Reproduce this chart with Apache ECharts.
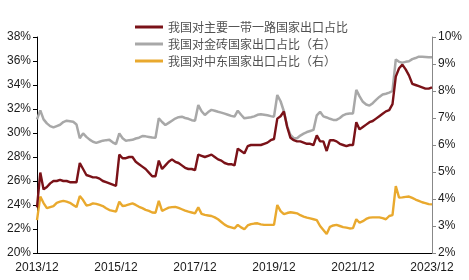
<!DOCTYPE html>
<html><head><meta charset="utf-8">
<script src="https://cdn.jsdelivr.net/npm/echarts@6/dist/echarts.min.js"></script>
<style>html,body{margin:0;padding:0;background:#fff}#c{width:469px;height:280px}</style>
</head><body><div id="c"></div>
<script>
// monthly categories 2013/12 .. 2023/12
const categories = [];
for (let y = 2013, m = 12; y < 2023 || (y === 2023 && m <= 12); ) {
  categories.push(y + '/' + (m < 10 ? '0' + m : m));
  m++; if (m > 12) { m = 1; y++; }
}
const seriesNames = ['我国对主要一带一路国家出口占比', '我国对金砖国家出口占比（右）', '我国对中东国家出口占比（右）'];
const leftTicks = ['20%','22%','24%','26%','28%','30%','32%','34%','36%','38%'];
const rightTicks = ['2%','3%','4%','5%','6%','7%','8%','9%','10%'];
const beltRoad = [
23.8,26.7,25.3,25.5,25.8,26.0,26.0,26.1,26.0,26.0,25.9,25.9,25.9,
27.5,27.0,26.5,26.4,26.3,26.3,26.2,26.0,25.9,25.8,25.7,25.6,
28.2,27.9,27.9,28.0,28.0,27.6,27.4,27.2,27.0,26.7,26.4,26.4,
27.7,27.0,27.3,27.6,27.8,27.6,27.5,27.3,27.1,27.0,27.0,26.9,
28.2,28.1,28.0,28.1,28.2,28.0,27.8,27.7,27.5,27.4,27.4,27.3,
28.7,28.5,28.3,28.9,29.0,29.0,29.0,29.0,29.1,29.2,29.4,29.5,
31.2,31.4,31.8,30.5,29.6,29.4,29.3,29.3,29.2,29.1,29.1,29.0,
29.8,29.3,29.3,28.5,29.4,29.4,29.3,29.1,29.0,28.9,29.0,29.0,
30.9,30.3,30.5,30.7,30.9,31.0,31.2,31.4,31.6,31.8,31.9,32.4,
34.7,35.4,35.7,35.3,34.8,34.1,34.0,33.9,33.8,33.7,33.7,33.8];
const brics = [
6.95,7.28,6.95,6.80,6.70,6.65,6.70,6.75,6.85,6.90,6.88,6.86,6.76,
6.25,6.43,6.30,6.20,6.12,6.08,6.12,6.16,6.18,6.19,6.10,6.03,
6.43,6.25,6.16,6.18,6.19,6.24,6.27,6.33,6.32,6.30,6.28,6.27,
6.99,6.85,6.74,6.82,6.90,6.98,7.03,7.05,7.00,6.97,6.92,6.90,
7.48,7.25,7.11,7.22,7.30,7.27,7.23,7.20,7.16,7.12,7.08,7.05,
7.27,7.12,6.99,7.01,7.03,7.06,7.12,7.14,7.12,7.10,7.07,7.05,
7.85,7.62,7.25,6.70,6.37,6.25,6.25,6.35,6.42,6.48,6.52,6.56,
7.10,7.23,7.06,7.02,6.97,6.93,6.93,7.00,7.10,7.15,7.17,7.17,
8.04,7.80,7.60,7.50,7.46,7.55,7.67,7.78,7.87,7.90,7.94,8.00,
9.17,9.08,9.05,9.08,9.10,9.18,9.22,9.27,9.27,9.26,9.25,9.25];
const middleEast = [
3.22,4.09,3.85,3.66,3.70,3.74,3.86,3.90,3.93,3.90,3.86,3.78,3.70,
4.11,3.96,3.76,3.78,3.84,3.82,3.78,3.74,3.66,3.59,3.56,3.53,
3.90,3.74,3.76,3.80,3.84,3.78,3.71,3.66,3.60,3.56,3.50,3.49,
3.93,3.56,3.62,3.68,3.70,3.71,3.67,3.62,3.57,3.53,3.50,3.47,
3.69,3.45,3.41,3.39,3.37,3.32,3.25,3.15,3.05,2.98,2.95,2.91,
3.04,2.95,2.88,3.02,3.07,3.09,3.10,3.06,3.04,3.04,3.04,3.04,
3.78,3.55,3.44,3.48,3.51,3.49,3.47,3.40,3.35,3.31,3.28,3.25,
3.22,3.00,2.85,2.70,2.97,3.02,3.04,3.00,2.96,2.94,2.91,2.92,
3.25,3.12,3.18,3.26,3.31,3.32,3.32,3.32,3.29,3.25,3.37,3.40,
4.48,4.05,4.06,4.08,4.09,4.04,3.98,3.93,3.88,3.85,3.81,3.80];
const colors = ['#7A1218', '#A8A8A8', '#E9A92E'];

const chart = echarts.init(document.getElementById('c'), null, {renderer: 'canvas'});
const axisFont = {fontFamily: 'Liberation Sans, Arial, sans-serif', fontSize: 12, color: '#1a1a1a'};
chart.setOption({
  animation: false,
  backgroundColor: '#fff',
  grid: {left: 37, right: 37, top: 37, bottom: 27},
  legend: {
    orient: 'vertical', left: 130, top: 16, itemGap: 5,
    itemWidth: 28, itemHeight: 3, icon: 'rect',
    textStyle: {fontFamily: 'Noto Sans CJK SC', fontSize: 12, color: '#505050'},
    data: seriesNames
  },
  xAxis: {
    type: 'category', data: categories, boundaryGap: false,
    axisLine: {lineStyle: {color: '#000', width: 1}},
    axisTick: {show: false},
    axisLabel: Object.assign({interval: 23, margin: 9, showMaxLabel: true}, axisFont)
  },
  yAxis: [
    {type: 'value', min: 20, max: 38, interval: 2, position: 'left',
     axisLine: {show: true, lineStyle: {color: '#000'}},
     axisTick: {show: true, length: 4, lineStyle: {color: '#000'}},
     splitLine: {show: false},
     axisLabel: Object.assign({margin: 6, formatter: v => leftTicks[Math.round((v - 20) / 2)]}, axisFont)},
    {type: 'value', min: 2, max: 10, interval: 1, position: 'right',
     axisLine: {show: true, lineStyle: {color: '#888'}},
     axisTick: {show: true, length: 4, lineStyle: {color: '#888'}},
     splitLine: {show: false},
     axisLabel: Object.assign({margin: 6, formatter: v => rightTicks[Math.round(v - 2)]}, axisFont)}
  ],
  series: [
    {name: seriesNames[0], type: 'line', yAxisIndex: 0, data: beltRoad, showSymbol: false, z: 3,
     lineStyle: {color: colors[0], width: 2.4}, itemStyle: {color: colors[0]}},
    {name: seriesNames[1], type: 'line', yAxisIndex: 1, data: brics, showSymbol: false, z: 2,
     lineStyle: {color: colors[1], width: 2.5}, itemStyle: {color: colors[1]}},
    {name: seriesNames[2], type: 'line', yAxisIndex: 1, data: middleEast, showSymbol: false, z: 2,
     lineStyle: {color: colors[2], width: 2.4}, itemStyle: {color: colors[2]}}
  ]
});
</script></body></html>
